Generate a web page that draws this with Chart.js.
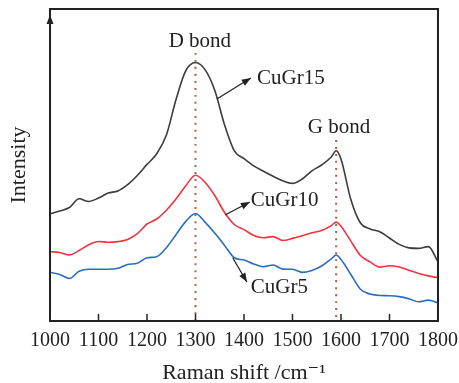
<!DOCTYPE html>
<html>
<head>
<meta charset="utf-8">
<script src="https://cdn.jsdelivr.net/npm/chart.js@4.4.1/dist/chart.umd.min.js"></script>
<style>
body{margin:0;background:#fff;}
#wrap{width:459px;height:383px;}
</style>
</head>
<body>
<div id="wrap"><canvas id="c" width="459" height="383"></canvas></div>
<script>
// Raman shift, cm-1
var shifts = [1000,1020,1040,1060,1080,1100,1120,1140,1160,1180,1200,1220,1240,1260,1280,1300,1320,1340,1360,1380,1400,1420,1440,1460,1480,1500,1520,1540,1560,1580,1590,1600,1620,1640,1660,1680,1700,1720,1740,1760,1780,1800];

// intensity (a.u., curves offset as in the figure)
var cugr15 = [107,110,113.5,122.2,119.5,123,128,130,136.3,145.5,156.6,167.2,186,221.7,250.3,258.5,251.1,230.3,196,170.2,162.4,155.2,149.8,144.8,140.2,137.6,142,150.1,156,164,170.3,162,122,98,92.1,89.3,83,76.6,73.1,72.6,74.4,59.3];
var cugr10 = [69.3,68.5,66,70.5,76.3,79.5,78.7,79.4,81.6,87.4,97,102,110.8,122.2,135.3,145.8,138.5,125.2,108.5,96.5,91.4,85.5,83.3,84.4,80.5,82.6,85.3,88.2,90.5,95.4,99,94.8,80.1,65.5,59.1,53.9,55.2,54,50.8,47.6,45.1,43.3];
var cugr5 = [48.7,46.6,42.5,49.7,51.7,51.7,51.7,52.7,56.5,57.7,63.2,64.3,73.3,86.5,99.6,107.5,98.6,87.8,75.6,63.2,61,57,54.3,56,51.9,51.7,48.6,50.6,55,62.2,66,61.5,46.8,31.8,26.9,25.5,25.3,24.4,22.2,19.2,20.9,18.3];

var xTicks = [1000,1100,1200,1300,1400,1500,1600,1700,1800];
var dBand = 1300;
var gBand = 1590;

function pts(ys) {
  return shifts.map(function(s, i) { return {x: s, y: ys[i]}; });
}

var serif = '"Liberation Serif", "DejaVu Serif", serif';

var extras = {
  id: 'extras',
  afterDatasetsDraw: function(chart) {
    var ctx = chart.ctx, a = chart.chartArea;
    var xs = chart.scales.x, ys = chart.scales.y;
    function P(x, y) { return [xs.getPixelForValue(x), ys.getPixelForValue(y)]; }
    ctx.save();
    ctx.strokeStyle = '#222';
    ctx.fillStyle = '#222';
    ctx.lineWidth = 2;
    ctx.strokeRect(a.left, a.top, a.right - a.left, a.bottom - a.top);

    // inward tick marks
    ctx.lineWidth = 1.5;
    xTicks.forEach(function(v) {
      var px = xs.getPixelForValue(v);
      ctx.beginPath();
      ctx.moveTo(px, a.bottom);
      ctx.lineTo(px, a.bottom - 7);
      ctx.stroke();
    });

    // arrow head on intensity axis
    ctx.beginPath();
    ctx.moveTo(a.left, a.top + 6);
    ctx.lineTo(a.left - 3.5, a.top + 15);
    ctx.lineTo(a.left + 3.5, a.top + 15);
    ctx.closePath();
    ctx.fill();

    function arrow(p0, p1) {
      ctx.lineWidth = 1.3;
      ctx.beginPath();
      ctx.moveTo(p0[0], p0[1]);
      ctx.lineTo(p1[0], p1[1]);
      ctx.stroke();
      var ang = Math.atan2(p1[1] - p0[1], p1[0] - p0[0]);
      ctx.beginPath();
      ctx.moveTo(p1[0], p1[1]);
      ctx.lineTo(p1[0] - 9 * Math.cos(ang) + 3.5 * Math.sin(ang), p1[1] - 9 * Math.sin(ang) - 3.5 * Math.cos(ang));
      ctx.lineTo(p1[0] - 9 * Math.cos(ang) - 3.5 * Math.sin(ang), p1[1] - 9 * Math.sin(ang) + 3.5 * Math.cos(ang));
      ctx.closePath();
      ctx.fill();
    }
    arrow(P(1344, 222), P(1414, 243));
    arrow(P(1361, 106), P(1412, 119));
    arrow(P(1377, 63), P(1406, 39));

    ctx.font = '21px ' + serif;
    ctx.textBaseline = 'middle';
    ctx.textAlign = 'center';
    var t = P(1309, 280); ctx.fillText('D bond', t[0], t[1]);
    t = P(1596, 194); ctx.fillText('G bond', t[0], t[1]);
    ctx.textAlign = 'left';
    t = P(1427, 243); ctx.fillText('CuGr15', t[0], t[1]);
    t = P(1414, 121); ctx.fillText('CuGr10', t[0], t[1]);
    t = P(1414, 34); ctx.fillText('CuGr5', t[0], t[1]);
    ctx.restore();
  }
};

var ctx = document.getElementById('c').getContext('2d');
var chart = new Chart(ctx, {
  type: 'line',
  data: {
    datasets: [{
      label: 'CuGr15',
      data: pts(cugr15),
      borderColor: '#3c3c3c',
      borderWidth: 1.6
    }, {
      label: 'CuGr10',
      data: pts(cugr10),
      borderColor: '#f0343f',
      borderWidth: 1.6
    }, {
      label: 'CuGr5',
      data: pts(cugr5),
      borderColor: '#2a6cc0',
      borderWidth: 1.6
    }, {
      label: 'D',
      data: [{x: dBand, y: 268}, {x: dBand, y: 0}],
      borderColor: '#b9603c',
      borderWidth: 2,
      borderDash: [2, 5],
      tension: 0
    }, {
      label: 'G',
      data: [{x: gBand, y: 181}, {x: gBand, y: 0}],
      borderColor: '#b9603c',
      borderWidth: 2,
      borderDash: [2, 5],
      tension: 0
    }]
  },
  options: {
    responsive: false,
    animation: false,
    events: [],
    layout: {padding: {left: 0, right: 21, top: 9, bottom: 0}},
    elements: {
      point: {radius: 0},
      line: {cubicInterpolationMode: 'monotone', fill: false}
    },
    plugins: {legend: {display: false}, tooltip: {enabled: false}},
    scales: {
      x: {
        type: 'linear',
        min: 1000,
        max: 1800,
        afterBuildTicks: function(s) { s.ticks = xTicks.map(function(v) { return {value: v}; }); },
        afterFit: function(s) { s.height = 62; s.paddingLeft = 0; s.paddingRight = 0; },
        grid: {display: false, drawTicks: false},
        border: {display: false},
        ticks: {
          color: '#222', padding: 8, minRotation: 0, maxRotation: 0, autoSkip: false,
          font: {family: serif, size: 20},
          callback: function(v) { return String(v); }
        },
        title: {display: true, text: 'Raman shift /cm\u207B\u00B9', color: '#222', padding: {top: 0, bottom: -3}, font: {family: serif, size: 22}}
      },
      y: {
        min: 0,
        max: 312,
        afterFit: function(s) { s.width = 50; },
        grid: {display: false, drawTicks: false},
        border: {display: false},
        ticks: {display: false},
        title: {display: true, text: 'Intensity', color: '#222', padding: {top: 6, bottom: 0}, font: {family: serif, size: 22}}
      }
    }
  },
  plugins: [extras]
});
</script>
</body>
</html>
